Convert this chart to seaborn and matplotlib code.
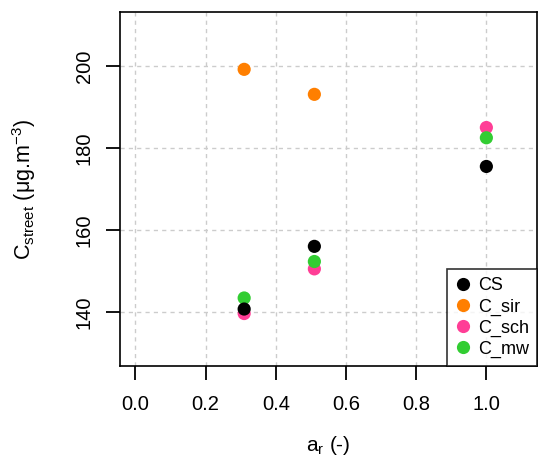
import pandas as pd
import matplotlib
matplotlib.use("Agg")
import matplotlib.pyplot as plt
import seaborn as sns

# aspect ratio values and street concentrations
a_r = [0.31, 0.51, 1.0]
cs = [140.7, 156.0, 175.5]
c_sir = [199.2, 193.1]
c_sch = [139.6, 150.5, 185.0]
c_mw = [143.4, 152.3, 182.5]

x_ticks = [0.0, 0.2, 0.4, 0.6, 0.8, 1.0]
x_labels = ["0.0", "0.2", "0.4", "0.6", "0.8", "1.0"]
y_ticks = [140, 160, 180, 200]
y_labels = ["140", "160", "180", "200"]

series_names = ["CS", "C_sir", "C_sch", "C_mw"]
colors = {"CS": "black", "C_sir": "#FF7F00", "C_sch": "#FF3E96", "C_mw": "#32CD32"}

# long table, drawing order: sch below, then mw, sir, CS on top
rows = []
for name, vals in [("C_sch", c_sch), ("C_mw", c_mw), ("C_sir", c_sir), ("CS", cs)]:
    for x, y in zip(a_r, vals):
        rows.append({"a_r": x, "C": y, "series": name})
df = pd.DataFrame(rows)

sns.set_style("ticks")
plt.rcParams["font.family"] = ["Liberation Sans", "DejaVu Sans"]
plt.rcParams["mathtext.default"] = "regular"

fig = plt.figure(figsize=(5.5, 4.72), dpi=100)
ax = fig.add_axes([0.218, 0.2246, 0.7582, 0.75])

# dashed grey grid at the tick positions
for xv in x_ticks:
    ax.axvline(xv, color="#cccccc", linestyle=(0, (3, 3)), linewidth=1, zorder=1)
for yv in y_ticks:
    ax.axhline(yv, color="#cccccc", linestyle=(0, (3, 3)), linewidth=1, zorder=1)

sns.scatterplot(data=df, x="a_r", y="C", hue="series", hue_order=series_names,
                palette=colors, s=90, edgecolor="none", ax=ax, zorder=3)

ax.set_xlim(-0.044, 1.144)
ax.set_ylim(126.8, 213.2)
ax.set_xticks(x_ticks)
ax.set_xticklabels(x_labels)
ax.set_yticks(y_ticks)
ax.set_yticklabels(y_labels, rotation=90, va="center")
for sp in ax.spines.values():
    sp.set_visible(True)
    sp.set_color("black")
    sp.set_linewidth(1.2)
ax.tick_params(axis="x", which="major", direction="out", length=10, width=1.3,
               pad=11, labelsize=14.5, color="black", labelcolor="black",
               bottom=True, top=False)
ax.tick_params(axis="y", which="major", direction="out", length=10, width=1.3,
               pad=9, labelsize=14.5, color="black", labelcolor="black",
               left=True, right=False)

# force the tick marks on
for t in ax.xaxis.get_major_ticks() + ax.yaxis.get_major_ticks():
    t.tick1line.set_visible(True)
    t.tick1line.set_markersize(10)
    t.tick1line.set_markeredgewidth(1.3)
    t.tick1line.set_markeredgecolor("black")
    t.tick1line.set_zorder(5)

ax.set_xlabel("a$_r$ (-)", fontsize=15, labelpad=14, color="black")
ax.set_ylabel("C$_{street}$ ($\\mu$g.m$^{-3}$)", fontsize=15.5, labelpad=26, color="black")

leg = ax.legend(loc="lower right", fontsize=13, frameon=True, fancybox=False,
                borderaxespad=0, handletextpad=0.35, borderpad=0.45,
                labelspacing=0.22, handlelength=0.9, markerscale=1.0)
leg.get_frame().set_edgecolor("black")
leg.get_frame().set_linewidth(1.2)
for t in leg.get_texts():
    t.set_color("black")

fig.savefig("out.png", dpi=100)
